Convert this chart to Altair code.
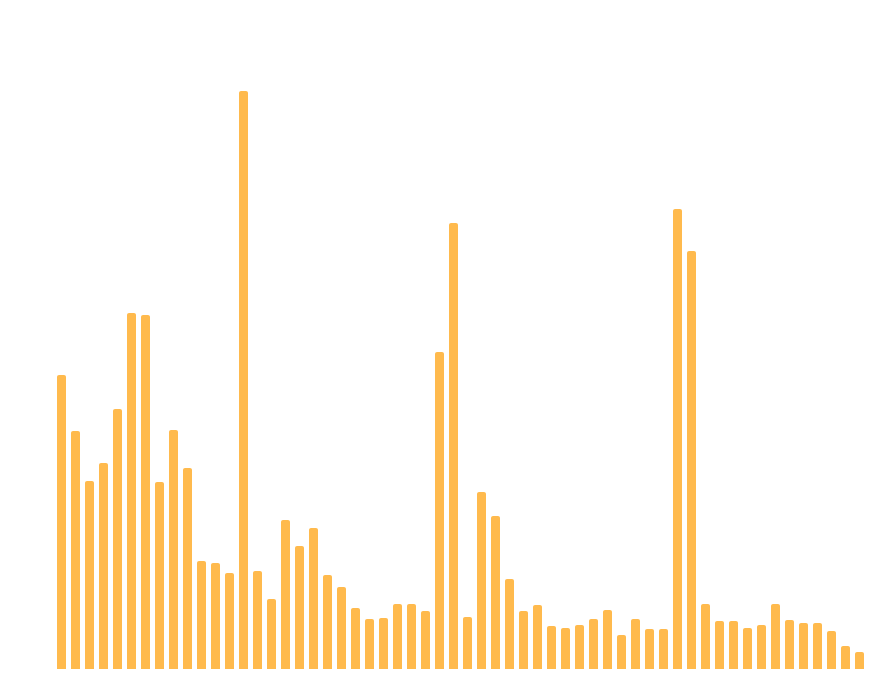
import altair as alt
import pandas as pd

categories = [f"C{i+1:02d}" for i in range(58)]
values = [294, 238, 188, 206, 260, 356, 354, 187, 239, 201,
          108, 106, 96, 578, 98, 70, 149, 123, 141, 94,
          82, 61, 50, 51, 65, 65, 58, 317, 446, 52,
          177, 153, 90, 58, 64, 43, 41, 44, 50, 59,
          34, 50, 40, 40, 460, 418, 65, 48, 48, 41,
          44, 65, 49, 46, 46, 38, 23, 17]

df = pd.DataFrame({"cat": categories, "val": values})

chart = alt.Chart(df).mark_bar(
    color="#ffba4d", cornerRadiusTopLeft=2, cornerRadiusTopRight=2
).encode(
    x=alt.X("cat:N", sort=None, axis=None,
            scale=alt.Scale(range=[46.5, 858.5], paddingInner=0.357, paddingOuter=0.1786)),
    y=alt.Y("val:Q", axis=None, scale=alt.Scale(domain=[0, 661], nice=False)),
).properties(
    width=856, height=661,
    autosize=alt.AutoSizeParams(type="none"),
    padding={"left": 0, "top": 0, "right": 0, "bottom": 0},
).configure_view(stroke=None)

chart.save("out.html", embed_options={"renderer": "svg", "actions": False})
